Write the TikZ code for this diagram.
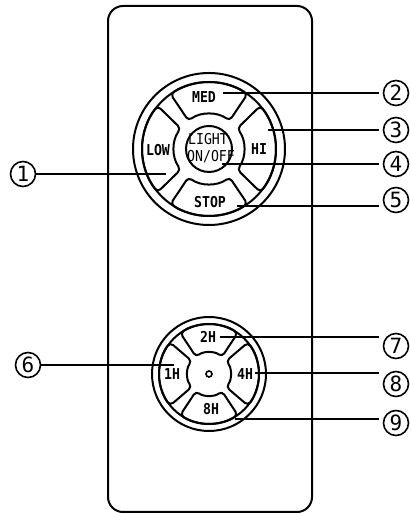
\documentclass[tikz,border=0pt]{standalone}
\usepackage{fontspec}
\setmonofont{DejaVu Sans Mono}
\newfontfamily\keyfont[FakeStretch=0.88]{DejaVu Sans Mono}
\usetikzlibrary{calc}

\newcommand{\petal}[5]{%
  \draw[rounded corners=4pt] (#1:#2) arc[start angle=#1, end angle=#1+#4, radius=#2]
    -- (#1+#5:#3) arc[start angle=#1+#5, end angle=#1-#5, radius=#3]
    -- (#1-#4:#2) arc[start angle=#1-#4, end angle=#1, radius=#2];}

\begin{document}
\begin{tikzpicture}[x=1pt, y=1pt, line width=2pt,
    keylabel/.style={font=\keyfont\bfseries\fontsize{15}{15}\selectfont, inner sep=0pt},
    lightlabel/.style={font=\keyfont\fontsize{15}{15}\selectfont, inner sep=0pt},
    callout/.style={circle, draw, line width=1.6pt, minimum size=25pt, inner sep=0pt, font=\ttfamily\fontsize{21}{21}\selectfont},
    leader/.style={line width=1.8pt, shorten >=4pt}]
  \useasboundingbox (0,0) rectangle (410,513);
  \draw[rounded corners=15pt] (108,1) rectangle (312,507);

  % upper pad
  \begin{scope}[shift={(209,364)}]
    \draw (0,0) circle (76);
    \draw (0,0) circle (67);
    \draw (0,0) circle (23);
    \foreach \d/\a in {90/35, 180/40, 270/35, 0/40}
      \petal{\d}{67}{35}{\a}{36};
  \end{scope}

  % lower pad
  \begin{scope}[shift={(209,139)}]
    \draw (0,0) circle (57);
    \draw (0,0) circle (50);
    \draw[line width=1.6pt] (0,0) circle (3);
    \foreach \d/\a in {90/35, 180/39, 270/35, 0/39}
      \petal{\d}{50}{21.5}{\a}{37};
  \end{scope}

  \node[keylabel] (med) at (204,416) {MED};
  \node[keylabel] (low) at (158,363) {LOW};
  \node[keylabel] (hi) at (259,364) {HI};
  \node[keylabel] (stop) at (210,311) {STOP};
  \node[lightlabel] (light) at (208,374) {LIGHT};
  \node[lightlabel] (onoff) at (211,356) {ON/OFF};
  \node[keylabel] (twoh) at (208,176) {2H};
  \node[keylabel] (oneh) at (172,139) {1H};
  \node[keylabel] (fourh) at (245,139) {4H};
  \node[keylabel] (eighth) at (211,104) {8H};

  \foreach \i/\x/\y in {1/23/339, 2/396/420, 3/396/383, 4/396/349, 5/396/313, 6/28/148, 7/396/167, 8/396/129, 9/396/90}
    \node[callout] (n\i) at (\x,\y) {\i};

  \foreach \i/\x/\y in {1/166/339, 2/223/420, 3/268/383, 4/222/349, 5/237/307, 6/174/148, 7/220/176, 8/255/140, 9/235/94}
    \coordinate (a\i) at (\x,\y);

  \foreach \i in {2,3,4,5,7,8,9}
    \draw[leader] (a\i) -- (n\i.west |- a\i);
  \foreach \i in {1,6}
    \draw[leader, shorten >=0pt] (a\i) -- (n\i.east |- a\i);
\end{tikzpicture}
\end{document}
